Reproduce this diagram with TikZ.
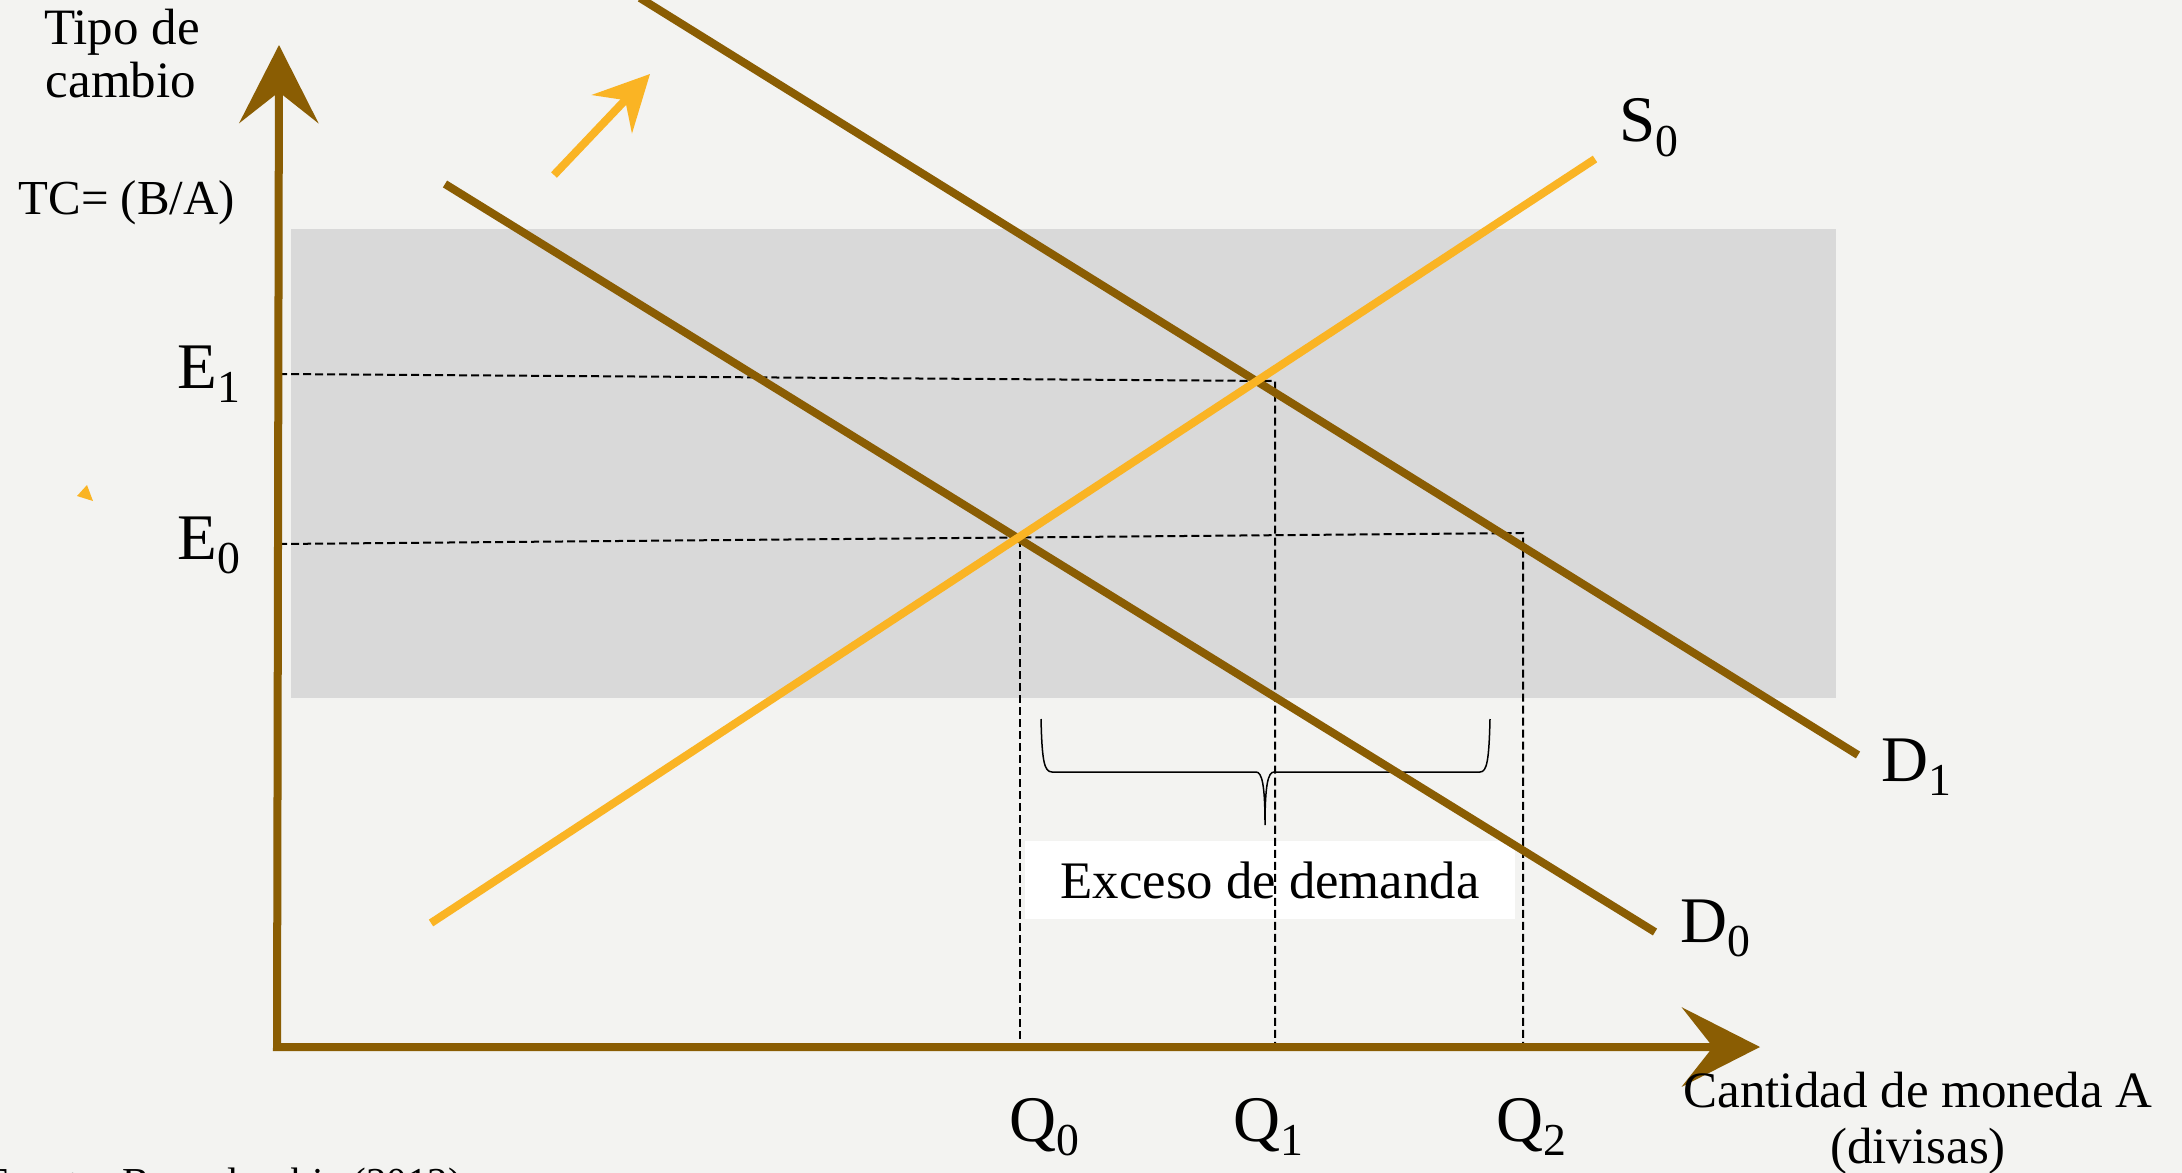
\documentclass[tikz,border=0pt]{standalone}
\usepackage{fontspec}
\setmainfont{Liberation Serif}
\usetikzlibrary{arrows.meta}
\definecolor{brownline}{RGB}{138,93,3}
\definecolor{orangeline}{RGB}{250,180,36}
\definecolor{bandgray}{RGB}{217,217,217}
\definecolor{paper}{RGB}{243,243,241}
\newcommand{\subl}[2]{#1\raisebox{-4pt}{\fontsize{13}{13}\selectfont #2}}
\tikzset{bigtip/.tip={Stealth[length=0.78cm, width=0.79cm, inset=0.31cm]},
  smalltip/.tip={Stealth[length=0.55cm, width=0.55cm, inset=0.19cm]}}
\begin{document}
\begin{tikzpicture}[x=0.01cm, y=-0.01cm,
  curve/.style={line width=0.08cm, brownline},
  supply/.style={line width=0.08cm, orangeline},
  guide/.style={line width=0.02cm, dash pattern=on 0.08cm off 0.04cm},
  txt/.style={font=\fontsize{14.5}{16}\selectfont, inner sep=0pt, anchor=base},
  lab/.style={font=\fontsize{18.5}{20}\selectfont, inner sep=0pt, anchor=base west}]
\useasboundingbox (0,0) rectangle (2182,1173);
\clip (0,0) rectangle (2182,1173);
\fill[paper] (0,0) rectangle (2182,1173);
\fill[bandgray] (291,229) rectangle (1836,698);
\node [fill=white, minimum width=4.9cm, minimum height=0.77cm, inner sep=0pt, font=\fontsize{15}{17}\selectfont] (exceso) at (1270,880) {Exceso de demanda};
\coordinate (o) at (277,1047);
\coordinate (ytip) at (279,45);
\coordinate (xtip) at (1760,1047);
\coordinate (e1) at (279,374);
\coordinate (q1top) at (1275,381);
\coordinate (q1) at (1275,1043);
\coordinate (e0) at (279,544);
\coordinate (q2top) at (1523,533);
\coordinate (q2) at (1523,1043);
\coordinate (q0top) at (1020,539);
\coordinate (q0) at (1020,1043);
\coordinate (d0a) at (445,184);
\coordinate (d0b) at (1655,932);
\coordinate (d1a) at (640,-2);
\coordinate (d1b) at (1858,755);
\coordinate (s0a) at (431,923);
\coordinate (s0b) at (1595,159);
\coordinate (shifta) at (554,175);
\coordinate (shiftb) at (650,74);
\draw[guide] (e1) -- (q1top) -- (q1);
\draw[guide] (e0) -- (q2top) -- (q2);
\draw[guide] (q0top) -- (q0);
\draw[line width=0.015cm] (1041,719) .. controls (1042,760) and (1044,772) .. (1052,772) -- (1256,772)
  .. controls (1262,772) and (1265,785) .. (1265,825) .. controls (1265,785) and (1268,772) .. (1274,772)
  -- (1480,772) .. controls (1487,772) and (1489,760) .. (1490,719);
\draw[curve] (d0a) -- (d0b);
\draw[curve] (d1a) -- (d1b);
\draw[supply] (s0a) -- (s0b);
\draw[curve, bigtip-bigtip] (ytip) -- (o) -- (xtip);
\draw[supply, -smalltip] (shifta) -- (shiftb);
\fill[orangeline] (77,496) -- (87,485) -- (93,501) -- cycle;
\node[txt] (tipo) at (122,45) {Tipo de};
\node[txt] (cambio) at (121,98) {cambio};
\node[txt, anchor=base west, font=\fontsize{13.9}{16}\selectfont] (tc) at (18,215) {TC= (B/A)};
\node[lab] (e1lab) at (177,388) {\subl{E}{1}};
\node[lab] (e0lab) at (177,559) {\subl{E}{0}};
\node[lab] (s0lab) at (1619,142) {\subl{S}{0}};
\node[lab] (d1lab) at (1881,781) {\subl{D}{1}};
\node[lab] (d0lab) at (1680,942) {\subl{D}{0}};
\node[lab] (q0lab) at (1009,1141) {\subl{Q}{0}};
\node[lab] (q1lab) at (1233,1141) {\subl{Q}{1}};
\node[lab] (q2lab) at (1496,1141) {\subl{Q}{2}};
\node[txt] (cantidad) at (1918,1107) {Cantidad de moneda A};
\node[txt] (divisas) at (1918,1163) {(divisas)};
\node[txt, anchor=base west, font=\fontsize{11.7}{14}\selectfont] (fuente) at (-15,1196) {Fuente: Bancolombia (2012)};
\end{tikzpicture}
\end{document}
